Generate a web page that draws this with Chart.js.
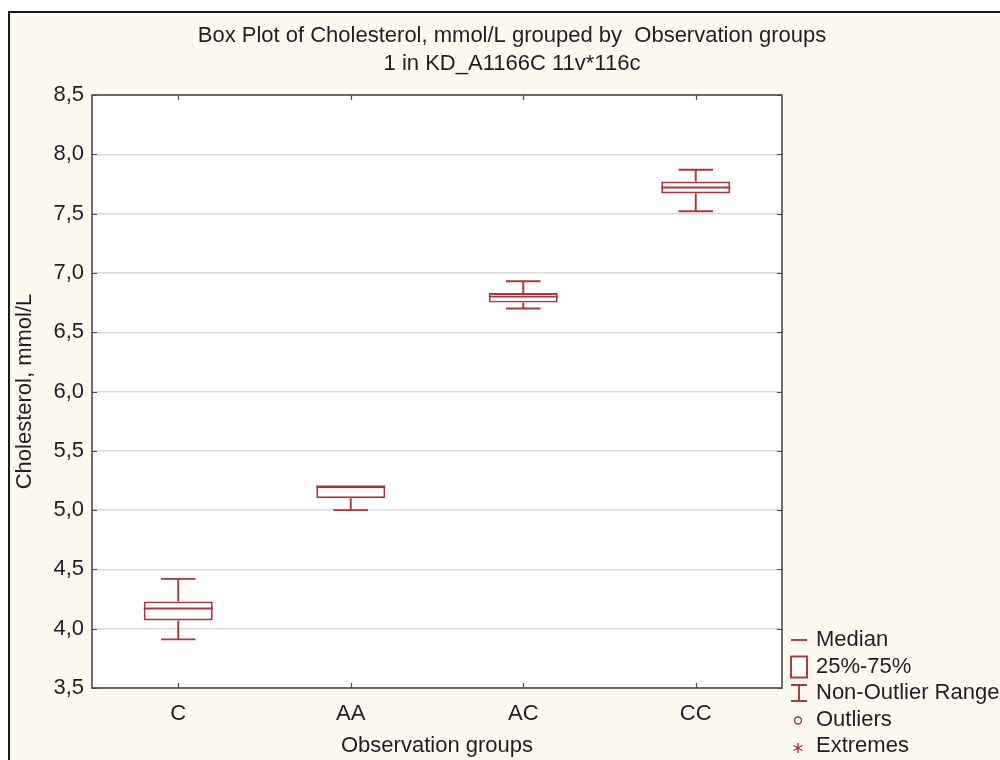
<!DOCTYPE html>
<html>
<head>
<meta charset="utf-8">
<script src="https://cdn.jsdelivr.net/npm/chart.js@4/dist/chart.umd.min.js"></script>
<style>
  html, body { margin: 0; padding: 0; background: #ffffff; }
  canvas { display: block; }
</style>
</head>
<body>
<canvas id="chart" width="1000" height="760"></canvas>
<script>
// Cholesterol (mmol/L) by genotype group: box-and-whisker summaries
const categories = ['C', 'AA', 'AC', 'CC'];
const minValues = [3.91, 5.0, 6.70, 7.52];
const q1Values = [4.07, 5.1, 6.75, 7.67];
const medianValues = [4.17, 5.2, 6.80, 7.72];
const q3Values = [4.23, 5.2, 6.83, 7.77];
const maxValues = [4.42, 5.2, 6.93, 7.87];

const titleLines = [
  'Box Plot of Cholesterol, mmol/L grouped by  Observation groups',
  '1 in KD_A1166C 11v*116c'
];
const legendLabels = ['Median', '25%-75%', 'Non-Outlier Range', 'Outliers', 'Extremes'];

const BOX_COLOR = '#a8363d';
const TEXT_COLOR = '#1e1e24';
const FONT = '"Liberation Sans", Arial, sans-serif';
const LINE_W = 1.9;

// Page background, outer panel and its frame
const panelPlugin = {
  id: 'panel',
  beforeDraw(chart) {
    const { ctx, chartArea: a } = chart;
    ctx.save();
    ctx.fillStyle = '#ffffff';
    ctx.fillRect(0, 0, chart.width, chart.height);
    ctx.fillStyle = '#fef9ee';
    ctx.fillRect(9, 12, chart.width - 9, chart.height - 12);
    ctx.strokeStyle = '#1a1a1a';
    ctx.lineWidth = 2;
    ctx.beginPath();
    ctx.moveTo(9, chart.height);
    ctx.lineTo(9, 12);
    ctx.lineTo(chart.width, 12);
    ctx.stroke();
    ctx.fillStyle = '#ffffff';
    ctx.fillRect(a.left, a.top, a.right - a.left, a.bottom - a.top);
    ctx.restore();
  }
};

// Whiskers and median lines on top of the floating bars (the boxes)
const whiskerPlugin = {
  id: 'whiskers',
  afterDatasetsDraw(chart) {
    const { ctx, scales: { x, y } } = chart;
    const step = x.getPixelForValue(1) - x.getPixelForValue(0);
    const boxHalf = step * 0.2;
    const capHalf = step * 0.1;
    ctx.save();
    ctx.strokeStyle = BOX_COLOR;
    ctx.lineWidth = LINE_W;
    categories.forEach((c, i) => {
      const cx = x.getPixelForValue(i);
      const yMin = y.getPixelForValue(minValues[i]);
      const yMax = y.getPixelForValue(maxValues[i]);
      const yQ1 = y.getPixelForValue(q1Values[i]);
      const yQ3 = y.getPixelForValue(q3Values[i]);
      const yMed = y.getPixelForValue(medianValues[i]);
      ctx.beginPath();
      // upper whisker
      ctx.moveTo(cx, yQ3); ctx.lineTo(cx, yMax);
      ctx.moveTo(cx - capHalf, yMax); ctx.lineTo(cx + capHalf, yMax);
      // lower whisker
      ctx.moveTo(cx, yQ1); ctx.lineTo(cx, yMin);
      ctx.moveTo(cx - capHalf, yMin); ctx.lineTo(cx + capHalf, yMin);
      // median
      ctx.moveTo(cx - boxHalf, yMed); ctx.lineTo(cx + boxHalf, yMed);
      ctx.stroke();
    });
    ctx.restore();
  }
};

// Plot frame, inward tick marks, titles and the symbol legend
const decorPlugin = {
  id: 'decor',
  afterDraw(chart) {
    const { ctx, chartArea: a, scales: { x, y } } = chart;
    ctx.save();
    ctx.strokeStyle = '#4a4a4a';
    ctx.lineWidth = 1.6;
    ctx.strokeRect(a.left, a.top, a.right - a.left, a.bottom - a.top);

    ctx.beginPath();
    const t = 5;
    y.ticks.forEach(tk => {
      const py = Math.round(y.getPixelForValue(tk.value)) + 0.5;
      ctx.moveTo(a.left, py); ctx.lineTo(a.left + t, py);
      ctx.moveTo(a.right, py); ctx.lineTo(a.right - t, py);
    });
    categories.forEach((c, i) => {
      const px = Math.round(x.getPixelForValue(i)) + 0.5;
      ctx.moveTo(px, a.bottom); ctx.lineTo(px, a.bottom - t);
      ctx.moveTo(px, a.top); ctx.lineTo(px, a.top + t);
    });
    ctx.lineWidth = 1.2;
    ctx.stroke();

    // titles
    ctx.fillStyle = TEXT_COLOR;
    ctx.font = '22px ' + FONT;
    ctx.textAlign = 'center';
    ctx.textBaseline = 'middle';
    ctx.fillText(titleLines[0], 512, 36);
    ctx.fillText(titleLines[1], 512, 64);

    // legend
    const lx = 791, lw = 16, tx = 816;
    const rows = [640, 666.5, 693, 719.5, 746];
    ctx.strokeStyle = BOX_COLOR;
    ctx.lineWidth = LINE_W;
    ctx.beginPath();
    ctx.moveTo(lx, rows[0]); ctx.lineTo(lx + lw, rows[0]);
    ctx.stroke();
    ctx.fillStyle = '#ffffff';
    ctx.fillRect(lx, rows[1] - 10, lw, 21);
    ctx.strokeRect(lx, rows[1] - 10, lw, 21);
    ctx.beginPath();
    ctx.moveTo(lx, rows[2] - 8); ctx.lineTo(lx + lw, rows[2] - 8);
    ctx.moveTo(lx + lw / 2, rows[2] - 8); ctx.lineTo(lx + lw / 2, rows[2] + 8);
    ctx.moveTo(lx, rows[2] + 8); ctx.lineTo(lx + lw, rows[2] + 8);
    ctx.stroke();
    ctx.lineWidth = 1.4;
    ctx.beginPath();
    ctx.arc(lx + 7, rows[3] + 1, 3.5, 0, Math.PI * 2);
    ctx.stroke();
    ctx.beginPath();
    const sx = lx + 7, sy = rows[4] + 2, r = 5;
    for (let k = 0; k < 3; k++) {
      const ang = Math.PI / 2 + k * Math.PI / 3;
      ctx.moveTo(sx + r * Math.cos(ang), sy + r * Math.sin(ang));
      ctx.lineTo(sx - r * Math.cos(ang), sy - r * Math.sin(ang));
    }
    ctx.stroke();

    ctx.fillStyle = TEXT_COLOR;
    ctx.font = '22px ' + FONT;
    ctx.textAlign = 'left';
    legendLabels.forEach((lab, i) => ctx.fillText(lab, tx, rows[i]));
    ctx.restore();
  }
};

new Chart(document.getElementById('chart'), {
  type: 'bar',
  data: {
    labels: categories,
    datasets: [{
      label: '25%-75%',
      data: q1Values.map((q1, i) => [q1, q3Values[i]]),
      backgroundColor: '#ffffff',
      borderColor: BOX_COLOR,
      borderWidth: LINE_W,
      borderSkipped: false,
      barPercentage: 0.4,
      categoryPercentage: 1.0
    }]
  },
  options: {
    responsive: false,
    animation: false,
    devicePixelRatio: 1,
    layout: { padding: { left: 0, right: 218, top: 95, bottom: 0 } },
    plugins: {
      legend: { display: false },
      title: { display: false },
      tooltip: { enabled: false }
    },
    scales: {
      x: {
        grid: { display: false, drawTicks: false },
        border: { display: false },
        ticks: { color: TEXT_COLOR, font: { family: FONT, size: 22 }, padding: 13 },
        title: {
          display: true,
          text: 'Observation groups',
          color: TEXT_COLOR,
          font: { family: FONT, size: 22 },
          padding: { top: 0, bottom: 1 }
        },
        afterFit(scale) { scale.height = 72; }
      },
      y: {
        min: 3.5,
        max: 8.5,
        grid: { color: '#dadada', lineWidth: 1.4, drawTicks: false },
        border: { display: false },
        ticks: {
          stepSize: 0.5,
          color: TEXT_COLOR,
          font: { family: FONT, size: 22 },
          padding: 8,
          callback: v => v.toFixed(1).replace('.', ',')
        },
        title: {
          display: true,
          text: 'Cholesterol, mmol/L',
          color: TEXT_COLOR,
          font: { family: FONT, size: 22 },
          padding: { top: 12, bottom: 0 }
        },
        afterFit(scale) { scale.width = 92; }
      }
    }
  },
  plugins: [panelPlugin, whiskerPlugin, decorPlugin]
});
</script>
</body>
</html>
